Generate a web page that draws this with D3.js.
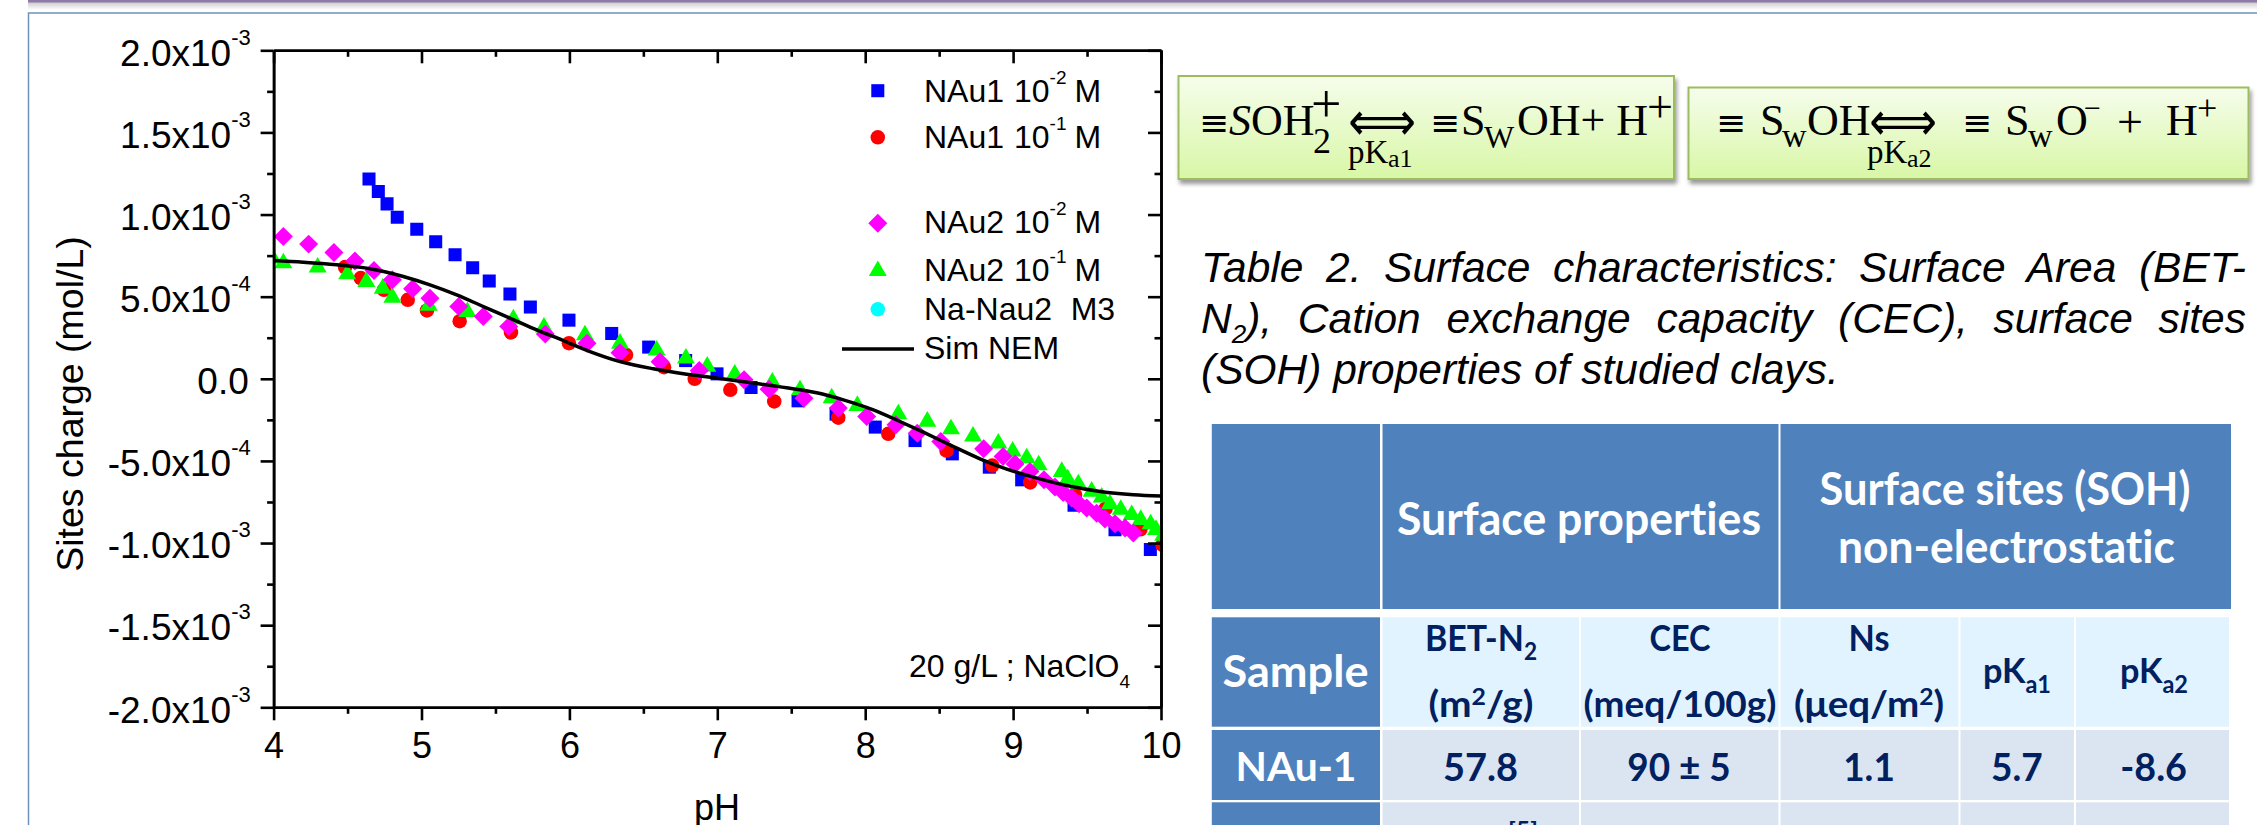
<!DOCTYPE html>
<html>
<head>
<meta charset="utf-8">
<script src="https://cdn.jsdelivr.net/npm/d3@7"></script>
<style>
  html, body { margin: 0; padding: 0; background: #fff; overflow: hidden; }
  svg { display: block; font-variant-ligatures: none; }
</style>
</head>
<body>
<div id="chart"></div>
<script>
// [pH, sites charge in 10^-3 mol/L]
const nau1Low = [[4.645,1.216],[4.708,1.14],[4.767,1.065],[4.836,.984],[4.968,.911],[5.096,.834],[5.227,.755],[5.346,.676],[5.458,.595],[5.598,.516],[5.736,.437],[5.997,.357],[6.286,.276],[6.536,.193],[6.786,.111],[6.998,.03],[7.228,-.053],[7.546,-.134],[7.803,-.215],[8.068,-.294],[8.337,-.376],[8.589,-.457],[8.839,-.538],[9.058,-.615],[9.412,-.769],[9.689,-.919],[9.928,-1.039]];
const nau1High = [[4.483,.68],[4.589,.613],[4.746,.542],[4.907,.481],[5.037,.416],[5.258,.351],[5.605,.282],[5.997,.217],[6.383,.146],[6.64,.071],[6.847,0],[7.088,-.067],[7.385,-.138],[7.818,-.237],[8.156,-.335],[8.55,-.438],[8.859,-.528],[9.116,-.631],[9.419,-.706],[9.625,-.791],[9.861,-.916],[10.01,-1.011]];
const nau2Low = [[4.066,.866],[4.237,.82],[4.408,.769],[4.55,.717],[4.679,.659],[4.803,.603],[4.94,.548],[5.057,.491],[5.252,.44],[5.418,.379],[5.59,.318],[5.837,.272],[6.119,.217],[6.342,.158],[6.613,.104],[6.878,.051],[7.181,-.006],[7.35,-.063],[7.586,-.118],[7.818,-.178],[8.01,-.23],[8.208,-.28],[8.352,-.331],[8.511,-.382],[8.801,-.426],[8.932,-.473],[9.013,-.518],[9.114,-.564],[9.209,-.615],[9.283,-.659],[9.339,-.692],[9.396,-.726],[9.446,-.761],[9.498,-.787],[9.565,-.818],[9.621,-.854],[9.689,-.883],[9.757,-.909],[9.813,-.939]];
const nau2High = [[3.994,.749],[4.066,.72],[4.298,.694],[4.498,.653],[4.627,.607],[4.738,.566],[4.803,.511],[5.049,.461],[5.31,.424],[5.621,.379],[5.828,.329],[6.105,.282],[6.342,.231],[6.59,.189],[6.788,.14],[6.932,.091],[7.118,.043],[7.372,-.006],[7.559,-.053],[7.773,-.102],[7.947,-.148],[8.224,-.199],[8.42,-.244],[8.58,-.29],[8.729,-.335],[8.9,-.377],[8.997,-.426],[9.092,-.467],[9.173,-.51],[9.329,-.55],[9.369,-.595],[9.441,-.625],[9.531,-.67],[9.599,-.706],[9.655,-.747],[9.728,-.781],[9.802,-.812],[9.863,-.842],[9.93,-.869],[9.966,-.903],[10.015,-.939]];
const simNem = [[4,.72],[4.2,.71],[4.427,.694],[4.652,.67],[4.877,.623],[5.057,.572],[5.238,.511],[5.418,.44],[5.598,.37],[5.779,.298],[5.959,.233],[6.139,.166],[6.342,.105],[6.567,.061],[6.793,.028],[7.018,.002],[7.243,-.026],[7.469,-.055],[7.672,-.085],[7.852,-.128],[8.055,-.189],[8.235,-.26],[8.393,-.325],[8.573,-.402],[8.776,-.487],[8.957,-.55],[9.137,-.599],[9.362,-.65],[9.588,-.686],[9.813,-.706],[10,-.714]];

const xTicks = [4, 5, 6, 7, 8, 9, 10];
const xMinor = [4.5, 5.5, 6.5, 7.5, 8.5, 9.5];
const yTicks = [2, 1.5, 1, .5, 0, -.5, -1, -1.5, -2];
const yMinor = [1.75, 1.25, .75, .25, -.25, -.75, -1.25, -1.75];
const yMantissa = ['2.0x10', '1.5x10', '1.0x10', '5.0x10', '0.0', '-5.0x10', '-1.0x10', '-1.5x10', '-2.0x10'];
const yExponent = ['-3', '-3', '-3', '-4', '', '-4', '-3', '-3', '-3'];

const tableHead = ['Surface properties'];
const tableSites = ['Surface sites (SOH)', 'non-electrostatic'];
const sampleRow = ['NAu-1', '57.8', '90 ± 5', '1.1', '5.7', '-8.6'];

const width = 2257, height = 825;
const arial = '"Liberation Sans", Arial, sans-serif';
const serif = '"Liberation Serif", serif';
const dejavu = '"DejaVu Sans", sans-serif';
const lato = 'Lato, sans-serif';
const navy = '#002060';

const svg = d3.select('#chart').append('svg')
  .attr('width', width)
  .attr('height', height)
  .style('background-color', 'white');

const defs = svg.append('defs');
const fbar = defs.append('linearGradient').attr('id', 'topShade')
  .attr('x1', 0).attr('x2', 0).attr('y1', 0).attr('y2', 1);
fbar.append('stop').attr('offset', 0).attr('stop-color', '#c9c9c9');
fbar.append('stop').attr('offset', 1).attr('stop-color', '#ffffff');
const green = defs.append('linearGradient').attr('id', 'boxFill')
  .attr('x1', 0).attr('x2', 0).attr('y1', 0).attr('y2', 1);
green.append('stop').attr('offset', 0).attr('stop-color', '#f6fdec');
green.append('stop').attr('offset', 1).attr('stop-color', '#d8f7a6');
const shadow = defs.append('filter').attr('id', 'boxShadow')
  .attr('x', '-5%').attr('y', '-5%').attr('width', '110%').attr('height', '120%');
shadow.append('feDropShadow').attr('dx', 2).attr('dy', 4).attr('stdDeviation', 2)
  .attr('flood-color', '#000').attr('flood-opacity', .4);

// slide furniture
svg.append('rect').attr('x', 28).attr('y', 2).attr('width', width).attr('height', 8).attr('fill', 'url(#topShade)');
svg.append('rect').attr('x', 28).attr('y', 0).attr('width', width).attr('height', 2.5).attr('fill', '#8f78aa');
svg.append('path').attr('d', `M28.5,${height}V13H${width}`).attr('fill', 'none').attr('stroke', '#6f92bb').attr('stroke-width', 1.5);

// scales
const x = d3.scaleLinear().domain([4, 10]).range([273.6, 1161]);
const y = d3.scaleLinear().domain([-2, 2]).range([707.3, 50.3]);

defs.append('clipPath').attr('id', 'plotClip').append('rect')
  .attr('x', x(4)).attr('y', y(2)).attr('width', x(10) - x(4) + 2).attr('height', y(-2) - y(2));

const marks = svg.append('g').attr('clip-path', 'url(#plotClip)');
const plotPath = (cx, cy) => `translate(${x(cx)},${y(cy)})`;

const square = d3.symbol(d3.symbolSquare, 170);
const circle = d3.symbol(d3.symbolCircle, 165);
const diamond = d3.symbol(d3.symbolSquare, 180);
const triangle = d3.symbol(d3.symbolTriangle, 140);

const addSeries = (data, sym, color, extra = '') => {
  marks.append('g').selectAll('path')
    .data(data)
    .enter()
    .append('path')
    .attr('d', sym)
    .attr('fill', color)
    .attr('transform', d => plotPath(d[0], d[1]) + extra);
};
addSeries(nau1Low, square, '#0000ff');
addSeries(nau1High, circle, '#ff0000');
addSeries(nau2High, triangle, '#00ff00', ' translate(0,2.6)');
addSeries(nau2Low, diamond, '#ff00ff', ' rotate(45)');

const simLine = d3.line().curve(d3.curveMonotoneX).x(d => x(d[0])).y(d => y(d[1]));
marks.append('path')
  .datum(simNem)
  .attr('d', simLine)
  .attr('fill', 'none')
  .attr('stroke', '#000')
  .attr('stroke-width', 3.5);

// axes
const styleAxis = g => {
  g.selectAll('path,line').attr('stroke', '#000').attr('stroke-width', 2.6);
  g.selectAll('text').attr('font-family', arial).attr('font-size', 36).attr('fill', '#000');
};
const addAxis = (gen, dx, dy) => svg.append('g').attr('transform', `translate(${dx},${dy})`).call(gen).call(styleAxis);

addAxis(d3.axisBottom(x).tickValues(xTicks).tickSize(13).tickSizeOuter(0).tickPadding(12).tickFormat(d3.format('d')), 0, y(-2));
addAxis(d3.axisBottom(x).tickValues(xMinor).tickSize(6.5).tickSizeOuter(0).tickFormat(''), 0, y(-2));
addAxis(d3.axisTop(x).tickValues(xTicks).tickSize(-13).tickSizeOuter(0).tickFormat(''), 0, y(2));
addAxis(d3.axisTop(x).tickValues(xMinor).tickSize(-6.5).tickSizeOuter(0).tickFormat(''), 0, y(2));
addAxis(d3.axisRight(y).tickValues(yTicks).tickSize(-13).tickSizeOuter(0).tickFormat(''), x(10), 0);
addAxis(d3.axisRight(y).tickValues(yMinor).tickSize(-6.5).tickSizeOuter(0).tickFormat(''), x(10), 0);
addAxis(d3.axisLeft(y).tickValues(yMinor).tickSize(6.5).tickSizeOuter(0).tickFormat(''), x(4), 0);
const yAxis = addAxis(d3.axisLeft(y).tickValues(yTicks).tickSize(13).tickSizeOuter(0).tickFormat(''), x(4), 0);

yAxis.selectAll('.tick').each(function(d, i) {
  const label = d3.select(this).append('text')
    .attr('x', yExponent[i] ? -22.9 : -24.8)
    .attr('y', 14.7)
    .attr('text-anchor', 'end')
    .attr('font-family', arial)
    .attr('font-size', 37)
    .attr('fill', '#000');
  label.append('tspan').text(yMantissa[i]);
  if (yExponent[i]) {
    label.append('tspan').attr('dy', -21).attr('font-size', 22).text(yExponent[i]);
  }
});

// free text helper: pieces are [string, dy, size] runs placed one after another
const addText = (parent, tx, ty, runs, opts = {}) => {
  const t = parent.append('text')
    .attr('x', tx)
    .attr('y', ty)
    .attr('font-family', opts.family || arial)
    .attr('font-size', opts.size || 32)
    .attr('font-style', opts.italic ? 'italic' : null)
    .attr('font-weight', opts.weight || null)
    .attr('text-anchor', opts.anchor || 'start')
    .attr('fill', opts.fill || '#000');
  if (opts.rotate) t.attr('transform', `rotate(${opts.rotate} ${tx} ${ty})`);
  [].concat(runs).forEach(r => {
    if (typeof r === 'string') t.append('tspan').text(r);
    else {
      const s = t.append('tspan').text(r.text);
      if (r.dy) s.attr('dy', r.dy);
      if (r.x) s.attr('x', r.x);
      if (r.size) s.attr('font-size', r.size);
      if (r.italic) s.attr('font-style', 'italic');
    }
  });
  return t;
};

addText(svg, 717, 820, 'pH', { size: 36, anchor: 'middle' });
addText(svg, 82.5, 404, 'Sites charge (mol/L)', { size: 37.5, anchor: 'middle', rotate: -90 });
addText(svg, 909, 676.7, ['20 g/L ; NaClO', { text: '4', dy: 11, size: 19 }], { size: 32 });

// legend
const legend = svg.append('g');
const legendX = 877.8;
const legendKey = (sym, color, ly, extra = '') => legend.append('path')
  .attr('d', sym).attr('fill', color).attr('transform', `translate(${legendX},${ly})${extra}`);
legendKey(square, '#0000ff', 90.7);
legendKey(circle, '#ff0000', 137.3);
legendKey(diamond, '#ff00ff', 223.3, ' rotate(45)');
legendKey(triangle, '#00ff00', 268.3, ' translate(0,2.6)');
legendKey(circle, '#00ffff', 309.3);
legend.append('line').attr('x1', 842).attr('x2', 914).attr('y1', 349).attr('y2', 349)
  .attr('stroke', '#000').attr('stroke-width', 3.5);

const legendEntry = (name, exp, ly) => addText(legend, 924, ly, [
  name,
  { text: '10', x: 1014 },
  { text: exp, dy: -18, size: 19 },
  { text: 'M', dy: 18, x: 1074.5 }
]);
legendEntry('NAu1', '-2', 101.7);
legendEntry('NAu1', '-1', 147.7);
legendEntry('NAu2', '-2', 233.3);
legendEntry('NAu2', '-1', 281);
addText(legend, 924, 320, ['Na-Nau2', { text: 'M3', x: 1070.7 }]);
addText(legend, 924, 359.3, 'Sim NEM');

// equation boxes
const eq = svg.append('g');
[[1178.5, 76, 495.5, 103], [1688.5, 87.5, 560, 91.5]].forEach(b => {
  eq.append('rect').attr('x', b[0]).attr('y', b[1]).attr('width', b[2]).attr('height', b[3])
    .attr('fill', 'url(#boxFill)').attr('stroke', '#9dbb61').attr('stroke-width', 2)
    .attr('filter', 'url(#boxShadow)');
});
const eqText = (s, tx, ty, size, italic) => addText(eq, tx, ty, s, { family: serif, size: size, italic: italic });
const triple = (tx, ty) => addText(eq, tx, ty, '≡', { family: dejavu, size: 36 });
const arrow = (tx, wd, ty) => addText(eq, tx, ty, '⟺', { family: dejavu, size: 54 })
  .attr('textLength', wd).attr('lengthAdjust', 'spacingAndGlyphs');

triple(1199, 135);
eqText('S', 1229, 135, 44, true);
eqText('OH', 1251, 135, 44);
eqText('2', 1313, 153, 36);
eqText('+', 1311, 122, 54);
arrow(1348, 68, 140);
eqText('pK', 1348, 163, 33);
eqText('a1', 1388, 167, 26);
triple(1430, 135);
eqText('S', 1461, 135, 44);
eqText('W', 1484, 148, 32);
eqText('OH+ H', 1517, 135, 44);
eqText('+', 1647, 122, 46);

triple(1716, 135);
eqText('S', 1760, 135, 44);
eqText('w', 1782, 147, 34);
eqText('OH', 1807, 135, 44);
arrow(1869, 68, 140);
eqText('pK', 1867, 163, 33);
eqText('a2', 1907, 167, 26);
triple(1962, 135);
eqText('S', 2005, 135, 44);
eqText('w', 2028, 147, 34);
eqText('O', 2056, 135, 44);
eqText('−', 2084, 118, 30);
eqText('+', 2117, 137, 46);
eqText('H', 2166, 135, 44);
eqText('+', 2197, 120, 36);

// caption, justified between two fixed edges
const capLeft = 1201, capRight = 2246, capSize = 42.5;
const justify = t => {
  const words = t.text().split(' ').length;
  const natural = t.node().getComputedTextLength();
  t.attr('word-spacing', (capRight - capLeft - natural) / (words - 1));
};
justify(addText(svg, capLeft, 282.3, 'Table 2. Surface characteristics: Surface Area (BET-', { size: capSize, italic: true }));
justify(addText(svg, capLeft, 333.3, ['N', { text: '2', dy: 10, size: 26 }, { text: '), Cation exchange capacity (CEC), surface sites', dy: -10 }], { size: capSize, italic: true }));
addText(svg, capLeft, 384.3, '(SOH) properties of studied clays.', { size: capSize, italic: true });

// table
const table = svg.append('g');
const colEdges = [1211.8, 1382.5, 1581, 1780.5, 1960.5, 2076, 2231];
const headBlue = '#4f81bd', subFill = '#e1f3ff', rowFill = '#dbe5f1';
const cell = (x0, x1, y0, y1, fill) => table.append('rect')
  .attr('x', x0).attr('y', y0).attr('width', x1 - x0).attr('height', y1 - y0).attr('fill', fill);

cell(colEdges[0], 1380, 424, 609, headBlue);
cell(colEdges[1], 1778.5, 424, 609, headBlue);
cell(colEdges[3], colEdges[6], 424, 609, headBlue);
[[617.3, 726.7, subFill], [730, 800, rowFill], [802.3, 825, rowFill]].forEach(r => {
  cell(colEdges[0], 1380, r[0], r[1], headBlue);
  d3.range(1, 6).forEach(i => cell(colEdges[i], colEdges[i + 1] - 2, r[0], r[1], r[2]));
});

// fits a bold label to the width it has in the reference
const tableText = (runs, cx, ty, size, wd, fill = navy) => {
  const t = addText(table, cx, ty, runs, { family: lato, size: size, weight: 'bold', anchor: 'middle', fill: fill });
  t.attr('textLength', wd).attr('lengthAdjust', 'spacingAndGlyphs');
  return t;
};

tableText(tableHead[0], 1579, 535, 46, 364, '#fff');
tableText(tableSites[0], 2005, 505, 46, 371, '#fff');
tableText(tableSites[1], 2006.5, 562.7, 46, 337, '#fff');
tableText('Sample', 1295.5, 686.7, 43, 146, '#fff');
tableText(sampleRow[0], 1296, 780.7, 40, 121, '#fff');

tableText(['BET-N', { text: '2', dy: 9, size: 24 }], 1481, 650.7, 36, 112);
tableText(['(m', { text: '2', dy: -12, size: 23 }, { text: '/g)', dy: 12 }], 1481, 716.7, 36, 105);
tableText('CEC', 1680, 650.7, 36, 61);
tableText('(meq/100g)', 1680, 716.7, 36, 193);
tableText('Ns', 1869, 650.7, 36, 41);
tableText(['(μeq/m', { text: '2', dy: -12, size: 23 }, { text: ')', dy: 12 }], 1869, 716.7, 36, 150);
tableText(['pK', { text: 'a1', dy: 10, size: 24 }], 2017, 683.3, 35, 68);
tableText(['pK', { text: 'a2', dy: 10, size: 24 }], 2154, 683.3, 35, 68);

[[1480.6, 75], [1679, 103.4], [1869, 51.7], [2016.8, 51.7], [2153.6, 66.7]].forEach((c, i) => {
  tableText(sampleRow[i + 1], c[0], 780.7, 39, c[1]);
});
tableText('[5]', 1523, 838, 22, 30);
</script>
</body>
</html>
